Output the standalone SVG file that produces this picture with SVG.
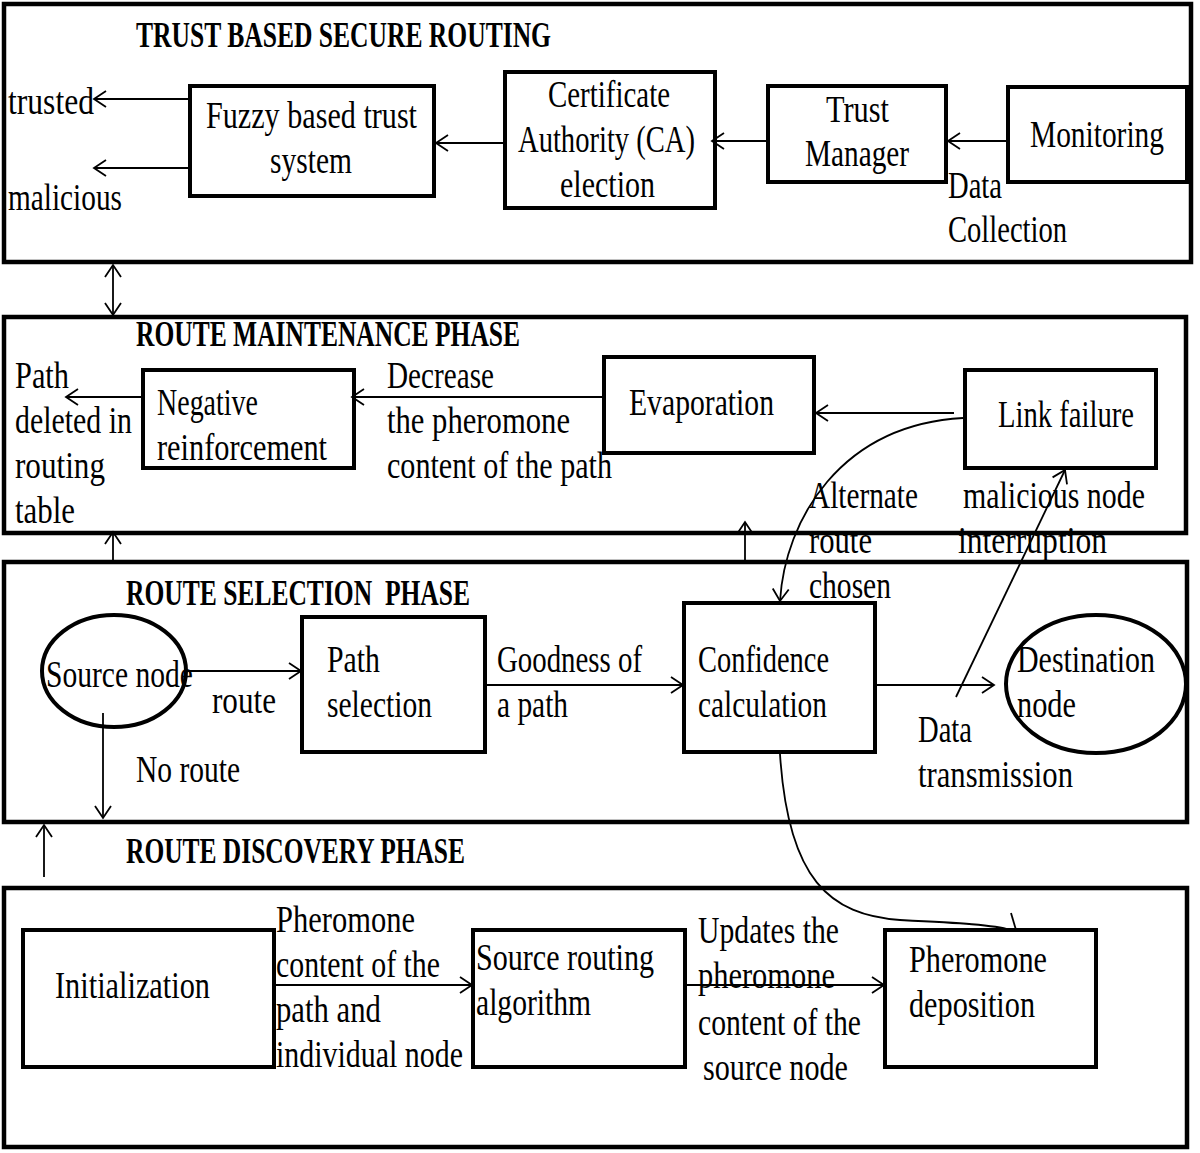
<svg xmlns="http://www.w3.org/2000/svg" width="1200" height="1153" viewBox="0 0 1200 1153">
<defs>
<style>
.panel{fill:none;stroke:#000;stroke-width:4.5}
.box{fill:none;stroke:#000;stroke-width:4}
.t{font-family:"Liberation Serif",serif;font-size:38px;fill:#000}
.h{font-family:"Liberation Serif",serif;font-size:35px;font-weight:bold;fill:#000}
.c{fill:none;stroke:#000;stroke-width:1.8}
</style>
<marker id="a" markerWidth="16" markerHeight="18" refX="13" refY="9" orient="auto-start-reverse" markerUnits="userSpaceOnUse">
<path d="M1,1 L13,9 L1,17" fill="none" stroke="#000" stroke-width="1.8"/>
</marker>
</defs>
<rect width="1200" height="1153" fill="#fff"/>

<g id="panel-trust">
<rect class="panel" x="4" y="4" width="1187" height="258"/>
<text class="h" x="136" y="47" textLength="415" lengthAdjust="spacingAndGlyphs">TRUST BASED SECURE ROUTING</text>
<text class="t" x="8" y="114" textLength="86" lengthAdjust="spacingAndGlyphs">trusted</text>
<text class="t" x="8" y="210" textLength="114" lengthAdjust="spacingAndGlyphs">malicious</text>
<text class="t" x="948" y="198" textLength="54" lengthAdjust="spacingAndGlyphs">Data</text>
<text class="t" x="948" y="242" textLength="119" lengthAdjust="spacingAndGlyphs">Collection</text>
</g>
<g id="node-fuzzy">
<rect class="box" x="190" y="86" width="244" height="110"/>
<text class="t" x="206" y="128" textLength="211" lengthAdjust="spacingAndGlyphs">Fuzzy based trust</text>
<text class="t" x="270" y="173" textLength="82" lengthAdjust="spacingAndGlyphs">system</text>
</g>
<g id="node-ca">
<rect class="box" x="505" y="72" width="210" height="136"/>
<text class="t" x="548" y="107" textLength="122" lengthAdjust="spacingAndGlyphs">Certificate</text>
<text class="t" x="518" y="152" textLength="177" lengthAdjust="spacingAndGlyphs">Authority (CA)</text>
<text class="t" x="560" y="197" textLength="95" lengthAdjust="spacingAndGlyphs">election</text>
</g>
<g id="node-trust-manager">
<rect class="box" x="768" y="86" width="178" height="96"/>
<text class="t" x="826" y="122" textLength="63" lengthAdjust="spacingAndGlyphs">Trust</text>
<text class="t" x="805" y="166" textLength="104" lengthAdjust="spacingAndGlyphs">Manager</text>
</g>
<g id="node-monitoring">
<rect class="box" x="1008" y="87" width="179" height="95"/>
<text class="t" x="1030" y="147" textLength="134" lengthAdjust="spacingAndGlyphs">Monitoring</text>
</g>

<g id="panel-maintenance">
<rect class="panel" x="4" y="317" width="1182" height="216"/>
<text class="h" x="136" y="346" textLength="384" lengthAdjust="spacingAndGlyphs">ROUTE MAINTENANCE PHASE</text>
<text class="t" x="15" y="388" textLength="54" lengthAdjust="spacingAndGlyphs">Path</text>
<text class="t" x="15" y="433" textLength="117" lengthAdjust="spacingAndGlyphs">deleted in</text>
<text class="t" x="15" y="478" textLength="90" lengthAdjust="spacingAndGlyphs">routing</text>
<text class="t" x="15" y="523" textLength="60" lengthAdjust="spacingAndGlyphs">table</text>
<text class="t" x="387" y="388" textLength="107" lengthAdjust="spacingAndGlyphs">Decrease</text>
<text class="t" x="387" y="433" textLength="183" lengthAdjust="spacingAndGlyphs">the pheromone</text>
<text class="t" x="387" y="478" textLength="225" lengthAdjust="spacingAndGlyphs">content of the path</text>
<text class="t" x="809" y="508" textLength="109" lengthAdjust="spacingAndGlyphs">Alternate</text>
<text class="t" x="809" y="553" textLength="63" lengthAdjust="spacingAndGlyphs">route</text>
<text class="t" x="809" y="598" textLength="82" lengthAdjust="spacingAndGlyphs">chosen</text>
<text class="t" x="963" y="508" textLength="182" lengthAdjust="spacingAndGlyphs">malicious node</text>
<text class="t" x="958" y="553" textLength="149" lengthAdjust="spacingAndGlyphs">interruption</text>
</g>
<g id="node-negative">
<rect class="box" x="143" y="370" width="211" height="98"/>
<text class="t" x="157" y="415" textLength="101" lengthAdjust="spacingAndGlyphs">Negative</text>
<text class="t" x="157" y="460" textLength="170" lengthAdjust="spacingAndGlyphs">reinforcement</text>
</g>
<g id="node-evaporation">
<rect class="box" x="604" y="357" width="210" height="96"/>
<text class="t" x="629" y="415" textLength="145" lengthAdjust="spacingAndGlyphs">Evaporation</text>
</g>
<g id="node-link-failure">
<rect class="box" x="965" y="370" width="191" height="98"/>
<text class="t" x="998" y="427" textLength="136" lengthAdjust="spacingAndGlyphs">Link failure</text>
</g>

<g id="panel-selection">
<rect class="panel" x="4" y="562" width="1183" height="260"/>
<text class="h" x="126" y="605" textLength="344" lengthAdjust="spacingAndGlyphs" xml:space="preserve">ROUTE SELECTION  PHASE</text>
<text class="t" x="212" y="713" textLength="64" lengthAdjust="spacingAndGlyphs">route</text>
<text class="t" x="497" y="672" textLength="145" lengthAdjust="spacingAndGlyphs">Goodness of</text>
<text class="t" x="497" y="717" textLength="71" lengthAdjust="spacingAndGlyphs">a path</text>
<text class="t" x="918" y="742" textLength="54" lengthAdjust="spacingAndGlyphs">Data</text>
<text class="t" x="918" y="787" textLength="155" lengthAdjust="spacingAndGlyphs">transmission</text>
<text class="t" x="136" y="782" textLength="104" lengthAdjust="spacingAndGlyphs">No route</text>
</g>
<g id="node-source">
<ellipse class="box" cx="114" cy="671" rx="72" ry="56"/>
<text class="t" x="46" y="687" textLength="147" lengthAdjust="spacingAndGlyphs">Source node</text>
</g>
<g id="node-path-selection">
<rect class="box" x="302" y="617" width="183" height="135"/>
<text class="t" x="327" y="672" textLength="53" lengthAdjust="spacingAndGlyphs">Path</text>
<text class="t" x="327" y="717" textLength="105" lengthAdjust="spacingAndGlyphs">selection</text>
</g>
<g id="node-confidence">
<rect class="box" x="684" y="603" width="191" height="149"/>
<text class="t" x="698" y="672" textLength="131" lengthAdjust="spacingAndGlyphs">Confidence</text>
<text class="t" x="698" y="717" textLength="129" lengthAdjust="spacingAndGlyphs">calculation</text>
</g>
<g id="node-destination">
<ellipse class="box" cx="1096" cy="684" rx="90" ry="69"/>
<text class="t" x="1017" y="672" textLength="138" lengthAdjust="spacingAndGlyphs">Destination</text>
<text class="t" x="1017" y="717" textLength="59" lengthAdjust="spacingAndGlyphs">node</text>
</g>

<g id="panel-discovery">
<text class="h" x="126" y="863" textLength="339" lengthAdjust="spacingAndGlyphs">ROUTE DISCOVERY PHASE</text>
<rect class="panel" x="4" y="888" width="1183" height="259"/>
<text class="t" x="276" y="932" textLength="139" lengthAdjust="spacingAndGlyphs">Pheromone</text>
<text class="t" x="276" y="977" textLength="164" lengthAdjust="spacingAndGlyphs">content of the</text>
<text class="t" x="276" y="1022" textLength="105" lengthAdjust="spacingAndGlyphs">path and</text>
<text class="t" x="276" y="1067" textLength="187" lengthAdjust="spacingAndGlyphs">individual node</text>
<text class="t" x="698" y="943" textLength="141" lengthAdjust="spacingAndGlyphs">Updates the</text>
<text class="t" x="698" y="988" textLength="137" lengthAdjust="spacingAndGlyphs">pheromone</text>
<text class="t" x="698" y="1035" textLength="163" lengthAdjust="spacingAndGlyphs">content of the</text>
<text class="t" x="703" y="1080" textLength="145" lengthAdjust="spacingAndGlyphs">source node</text>
</g>
<g id="node-initialization">
<rect class="box" x="23" y="930" width="251" height="137"/>
<text class="t" x="55" y="998" textLength="155" lengthAdjust="spacingAndGlyphs">Initialization</text>
</g>
<g id="node-source-routing">
<rect class="box" x="473" y="930" width="212" height="137"/>
<text class="t" x="476" y="970" textLength="178" lengthAdjust="spacingAndGlyphs">Source routing</text>
<text class="t" x="476" y="1015" textLength="115" lengthAdjust="spacingAndGlyphs">algorithm</text>
</g>
<g id="node-pheromone-deposition">
<rect class="box" x="885" y="930" width="211" height="137"/>
<text class="t" x="909" y="972" textLength="138" lengthAdjust="spacingAndGlyphs">Pheromone</text>
<text class="t" x="909" y="1017" textLength="126" lengthAdjust="spacingAndGlyphs">deposition</text>
</g>

<g id="connectors">
<path class="c" d="M190,99 H94" marker-end="url(#a)"/>
<path class="c" d="M190,168 H94" marker-end="url(#a)"/>
<path class="c" d="M505,143 H436" marker-end="url(#a)"/>
<path class="c" d="M768,141 H712" marker-end="url(#a)"/>
<path class="c" d="M1008,141 H948" marker-end="url(#a)"/>
<path class="c" d="M113,265 V315" marker-start="url(#a)" marker-end="url(#a)"/>
<path class="c" d="M143,397 H66" marker-end="url(#a)"/>
<path class="c" d="M604,397 H352" marker-end="url(#a)"/>
<path class="c" d="M954,413 H816" marker-end="url(#a)"/>
<path class="c" d="M963,418 C840,425 785,520 780,601" marker-end="url(#a)"/>
<path class="c" d="M956,697 L1065,470" marker-end="url(#a)"/>
<path class="c" d="M745,560 V522" marker-end="url(#a)"/>
<path class="c" d="M113,560 V532" marker-end="url(#a)"/>
<path class="c" d="M184,671 H301" marker-end="url(#a)"/>
<path class="c" d="M485,685 H683" marker-end="url(#a)"/>
<path class="c" d="M875,685 H994" marker-end="url(#a)"/>
<path class="c" d="M103,713 V818" marker-end="url(#a)"/>
<path class="c" d="M44,877 V825" marker-end="url(#a)"/>
<path class="c" d="M780,754 C788,880 830,915 900,920 C960,923 995,925 1010,930"/>
<path class="c" d="M1011,913 L1016,930"/>
<path class="c" d="M274,985 H472" marker-end="url(#a)"/>
<path class="c" d="M685,985 H884" marker-end="url(#a)"/>
</g>
</svg>
